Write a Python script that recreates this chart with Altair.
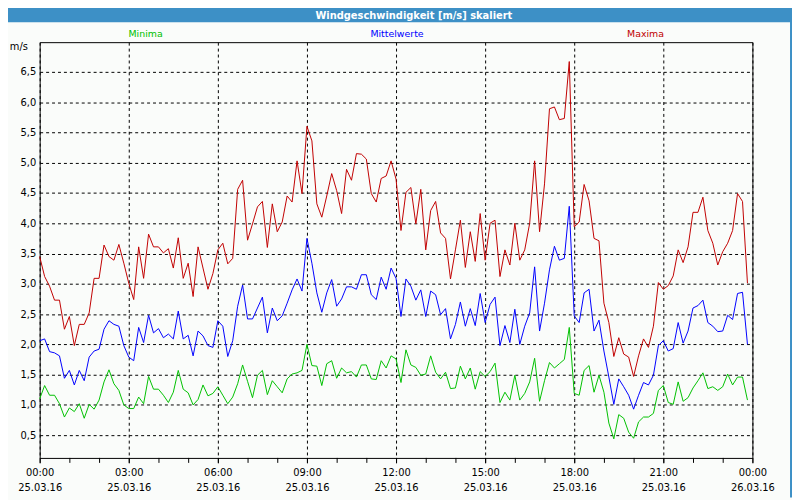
import altair as alt
import pandas as pd

# ---------------- data (10-minute values, 25.03.16 00:00 .. 23:50) ----------------
start = "2016-03-25 00:00"

maxima = [3.45, 3.12, 2.96, 2.73, 2.73, 2.25, 2.46, 1.98, 2.33, 2.33, 2.52, 3.09,
          3.09, 3.64, 3.45, 3.39, 3.65, 3.34, 3.01, 2.74, 3.61, 3.09, 3.82, 3.61,
          3.61, 3.51, 3.58, 3.26, 3.76, 3.09, 3.34, 2.79, 3.61, 3.26, 2.91, 3.17,
          3.56, 3.67, 3.33, 3.42, 4.56, 4.71, 3.72, 3.99, 4.27, 4.36, 3.60, 4.32,
          3.86, 4.02, 4.45, 4.35, 5.03, 4.49, 5.60, 5.36, 4.32, 4.10, 4.45, 4.82,
          4.54, 4.16, 4.89, 4.71, 5.15, 5.14, 5.06, 4.49, 4.35, 4.74, 4.78, 5.03,
          4.73, 3.88, 4.51, 4.59, 3.99, 4.56, 3.56, 4.21, 4.36, 3.84, 3.75, 3.08,
          3.56, 4.05, 3.27, 3.86, 3.37, 4.16, 3.39, 4.00, 4.05, 3.12, 3.56, 3.31,
          4.00, 3.39, 3.56, 4.00, 5.03, 3.86, 4.65, 5.89, 5.92, 5.71, 5.73, 6.67,
          3.94, 4.02, 4.64, 4.37, 3.75, 3.71, 2.68, 2.36, 1.80, 2.11, 1.84, 1.79,
          1.47, 1.81, 2.09, 1.95, 2.30, 3.02, 2.91, 2.97, 3.13, 3.56, 3.35, 3.61,
          4.18, 4.18, 4.43, 3.88, 3.67, 3.31, 3.53, 3.67, 3.88, 4.49, 4.36, 3.01]

mittelwerte = [2.06, 2.09, 1.88, 1.86, 1.81, 1.44, 1.57, 1.33, 1.57, 1.40, 1.79, 1.89,
               1.92, 2.25, 2.39, 2.33, 2.30, 1.98, 1.79, 1.73, 2.28, 2.03, 2.48, 2.19,
               2.26, 2.11, 2.17, 2.09, 2.55, 2.09, 2.15, 1.81, 2.22, 2.14, 1.98, 1.95,
               2.39, 2.30, 1.80, 2.06, 2.63, 2.98, 2.42, 2.42, 2.60, 2.78, 2.19, 2.60,
               2.39, 2.47, 2.68, 2.90, 3.08, 2.88, 3.75, 3.34, 2.85, 2.53, 2.85, 3.07,
               2.63, 2.75, 2.95, 2.95, 2.91, 3.15, 3.15, 2.82, 2.74, 3.11, 2.91, 3.26,
               3.09, 2.46, 3.08, 2.96, 2.73, 2.90, 2.46, 2.88, 2.82, 2.49, 2.59, 2.09,
               2.33, 2.70, 2.30, 2.59, 2.31, 2.84, 2.36, 2.66, 2.78, 1.98, 2.31, 2.03,
               2.58, 2.00, 2.30, 2.52, 3.28, 2.22, 2.68, 3.23, 3.62, 3.39, 3.42, 4.28,
               2.47, 2.36, 2.85, 2.91, 2.22, 2.40, 1.89, 1.46, 1.01, 1.43, 1.30, 1.16,
               0.93, 1.16, 1.37, 1.33, 1.49, 1.98, 2.06, 1.89, 1.93, 2.36, 2.02, 2.22,
               2.60, 2.64, 2.73, 2.36, 2.30, 2.21, 2.22, 2.48, 2.41, 2.84, 2.86, 2.00]

minima = [1.10, 1.32, 1.16, 1.16, 1.02, 0.80, 0.95, 0.89, 1.02, 0.78, 1.01, 0.93,
          1.08, 1.38, 1.58, 1.35, 1.24, 1.00, 0.94, 0.94, 1.13, 1.02, 1.47, 1.26,
          1.26, 1.16, 1.04, 1.21, 1.57, 1.26, 1.20, 1.00, 1.09, 1.33, 1.15, 1.19,
          1.30, 1.16, 1.02, 1.13, 1.35, 1.66, 1.39, 1.12, 1.49, 1.57, 1.17, 1.40,
          1.30, 1.20, 1.43, 1.51, 1.53, 1.57, 2.00, 1.65, 1.64, 1.32, 1.68, 1.73,
          1.44, 1.61, 1.53, 1.55, 1.46, 1.66, 1.66, 1.43, 1.42, 1.73, 1.61, 1.81,
          1.76, 1.37, 1.91, 1.66, 1.62, 1.49, 1.51, 1.81, 1.54, 1.43, 1.54, 1.27,
          1.28, 1.64, 1.43, 1.61, 1.26, 1.55, 1.47, 1.55, 1.69, 1.04, 1.21, 1.08,
          1.49, 1.08, 1.19, 1.38, 1.77, 1.06, 1.40, 1.70, 1.61, 1.68, 1.75, 2.28,
          1.19, 1.16, 1.57, 1.65, 1.21, 1.49, 1.21, 0.70, 0.44, 0.84, 0.78, 0.55,
          0.45, 0.72, 0.80, 0.80, 0.86, 1.24, 1.32, 1.04, 1.01, 1.38, 1.06, 1.12,
          1.28, 1.40, 1.53, 1.27, 1.30, 1.24, 1.30, 1.51, 1.33, 1.46, 1.46, 1.08]

series_names = ["Minima", "Mittelwerte", "Maxima"]
series_colors = ["#00c000", "#0000ff", "#c00000"]
y_ticks = [0.5, 1.0, 1.5, 2.0, 2.5, 3.0, 3.5, 4.0, 4.5, 5.0, 5.5, 6.0, 6.5]
x_tick_hours = [0, 3, 6, 9, 12, 15, 18, 21, 24]
title_text = "Windgeschwindigkeit [m/s] skaliert"
unit_text = "m/s"

# ---------------- build tables ----------------
times = pd.date_range(start, periods=len(maxima), freq="10min")
df = pd.concat([
    pd.DataFrame({"t": times, "v": vals, "s": name})
    for name, vals in zip(series_names, [minima, mittelwerte, maxima])
], ignore_index=True)

hours = pd.DataFrame({"t": pd.date_range(start, periods=25, freq="h")})


def dt(h):
    return alt.DateTime(year=2016, month=3, date=25 + h // 24, hours=h % 24)


FONT = "DejaVu Sans"
BAR = "#3d90c6"

x_scale = alt.Scale(domain=[dt(0), dt(24)])
y_scale = alt.Scale(domain=[0.125, 6.99], nice=False, zero=False)

x_axis = alt.Axis(
    values=[dt(h) for h in x_tick_hours],
    labelExpr="[timeFormat(datum.value, '%H:%M'), timeFormat(datum.value, '%d.%m.%y')]",
    title=None, grid=True, gridDash=[3, 3], gridColor="black", gridOpacity=1,
    ticks=True, tickSize=5, tickColor="black", domain=False,
    labelPadding=5, labelLineHeight=15, labelFont=FONT, labelFontSize=10,
    labelColor="black", labelOverlap=False, labelBound=False, labelFlush=False,
    labelAngle=0)

lines = alt.Chart(df).mark_line(strokeWidth=1).encode(
    x=alt.X("t:T", scale=x_scale, axis=x_axis),
    y=alt.Y("v:Q", scale=y_scale, axis=alt.Axis(
        values=y_ticks,
        labelExpr="replace(format(datum.value, '.1f'), '.', ',')",
        title=None, grid=True, gridDash=[3, 3], gridColor="black", gridOpacity=1,
        ticks=False, tickSize=0, domain=False, labelPadding=4,
        labelFont=FONT, labelFontSize=10, labelColor="black",
        labelOverlap=False, labelBound=False)),
    color=alt.Color("s:N", scale=alt.Scale(domain=series_names, range=series_colors),
                    legend=None),
    detail="s:N",
)

minor_ticks = alt.Chart(hours).mark_rule(color="black", strokeWidth=1, xOffset=0.5).encode(
    x=alt.X("t:T", scale=x_scale, axis=x_axis),
    y=alt.value(420),
    y2=alt.value(425),
)

one = pd.DataFrame({"a": [0]})

title_bar = alt.Chart(one).mark_rect(color=BAR).encode(
    x=alt.value(-40), x2=alt.value(760), y=alt.value(-40), y2=alt.value(-20))

right_border = alt.Chart(one).mark_rect(color=BAR).encode(
    x=alt.value(758), x2=alt.value(760), y=alt.value(-40), y2=alt.value(460))

title = alt.Chart(one).mark_text(
    text=title_text, font=FONT, fontSize=10, fontWeight="bold", color="white",
    align="center", baseline="middle").encode(x=alt.value(378), y=alt.value(-26))

unit = alt.Chart(one).mark_text(
    text=unit_text, font=FONT, fontSize=10, color="black",
    align="center", baseline="middle").encode(x=alt.value(-21), y=alt.value(5))

legend_pos = [107, 361, 612]
legend_layers = [
    alt.Chart(one).mark_text(
        text=name, font=FONT, fontSize=9.5, color=col,
        align="center", baseline="middle").encode(x=alt.value(px), y=alt.value(-8))
    for name, col, px in zip(series_names, series_colors, legend_pos)
]

chart = alt.layer(
    title_bar, right_border, lines, minor_ticks, title, unit, *legend_layers
).properties(
    width=720, height=420,
    autosize=alt.AutoSizeParams(type="none"),
    padding={"left": 32, "top": 32, "right": 40, "bottom": 40},
    background="#fafcfa",
).configure_view(
    stroke="black", strokeWidth=1
)

chart.save("out.html", embed_options={"renderer": "svg", "actions": False})
